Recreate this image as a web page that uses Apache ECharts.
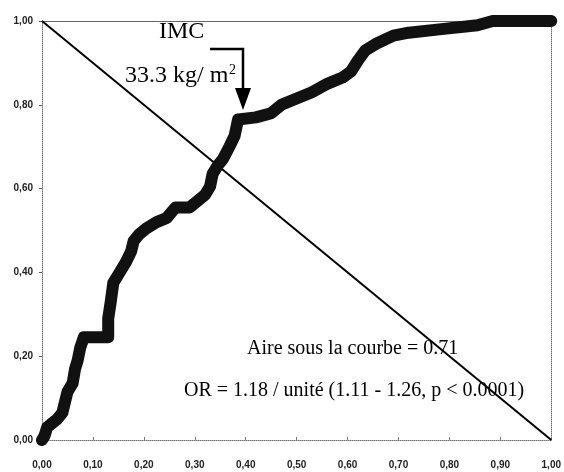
<!DOCTYPE html>
<html>
<head>
<meta charset="utf-8">
<script src="https://cdn.jsdelivr.net/npm/echarts@6/dist/echarts.min.js"></script>
<style>
  html, body { margin: 0; padding: 0; background: #fff; }
  #chart { width: 564px; height: 472px; }
</style>
</head>
<body>
<div id="chart"></div>
<script>
// courbe ROC (1 - spécificité, sensibilité)
const rocX = [0, 0.005, 0.01, 0.02, 0.03, 0.04, 0.045, 0.05, 0.06, 0.065, 0.07, 0.075, 0.082, 0.13, 0.13, 0.135, 0.14, 0.15, 0.165, 0.175, 0.18, 0.19, 0.205, 0.225, 0.245, 0.262, 0.29, 0.305, 0.32, 0.33, 0.335, 0.345, 0.355, 0.368, 0.378, 0.385, 0.42, 0.45, 0.47, 0.50, 0.53, 0.56, 0.59, 0.607, 0.62, 0.635, 0.655, 0.69, 0.72, 0.78, 0.855, 0.885, 1.0];
const rocY = [0, 0.01, 0.03, 0.04, 0.05, 0.065, 0.09, 0.115, 0.135, 0.17, 0.19, 0.22, 0.245, 0.245, 0.29, 0.33, 0.375, 0.395, 0.425, 0.45, 0.475, 0.49, 0.505, 0.52, 0.53, 0.555, 0.555, 0.57, 0.585, 0.605, 0.635, 0.655, 0.67, 0.70, 0.725, 0.765, 0.77, 0.78, 0.80, 0.815, 0.83, 0.85, 0.865, 0.88, 0.905, 0.93, 0.945, 0.965, 0.972, 0.98, 0.99, 1.0, 1.0];
// diagonale de référence
const diagX = [0, 1];
const diagY = [1, 0];

const xTicks = { min: 0, max: 1, interval: 0.1 };
const yTicks = { min: 0, max: 1, interval: 0.2 };

const fmt = v => v.toFixed(2).replace('.', ',');

const chart = echarts.init(document.getElementById('chart'));

const serif = '"Liberation Serif", "DejaVu Serif", serif';

chart.setOption({
  backgroundColor: '#ffffff',
  animation: false,
  grid: { left: 42, right: 10, top: 21, bottom: 32 },
  xAxis: [
    {
      type: 'value', min: xTicks.min, max: xTicks.max, interval: xTicks.interval,
      axisLine: { lineStyle: { color: '#777', type: 'dotted', width: 1 } },
      axisTick: { inside: true, length: 3, lineStyle: { color: '#777' } },
      axisLabel: { formatter: fmt, color: '#222', fontSize: 10, fontWeight: 'bold',
                   fontFamily: '"Liberation Sans", Arial, sans-serif', margin: 20 },
      splitLine: { show: false }
    },
    {
      type: 'value', position: 'top', min: 0, max: 1,
      axisLine: { show: true, onZero: false, lineStyle: { color: '#666', width: 1 } },
      axisTick: { show: false }, axisLabel: { show: false }, splitLine: { show: false }
    }
  ],
  yAxis: [
    {
      type: 'value', min: yTicks.min, max: yTicks.max, interval: yTicks.interval,
      axisLine: { show: true, lineStyle: { color: '#777', type: 'dotted', width: 1 } },
      axisTick: { show: true, length: 3, lineStyle: { color: '#555' } },
      axisLabel: { formatter: fmt, color: '#222', fontSize: 10, fontWeight: 'bold',
                   fontFamily: '"Liberation Sans", Arial, sans-serif', margin: 9 },
      splitLine: { show: false }
    },
    {
      type: 'value', position: 'right', min: 0, max: 1,
      axisLine: { show: true, onZero: false, lineStyle: { color: '#777', type: 'dotted', width: 1 } },
      axisTick: { show: false }, axisLabel: { show: false }, splitLine: { show: false }
    }
  ],
  series: [
    {
      type: 'line',
      data: diagX.map((x, i) => [x, diagY[i]]),
      symbol: 'none',
      lineStyle: { color: '#000', width: 2 },
      z: 2
    },
    {
      type: 'line',
      data: rocX.map((x, i) => [x, rocY[i]]),
      symbol: 'none',
      lineStyle: { color: '#111', width: 12, cap: 'round', join: 'round' },
      z: 3
    }
  ],
  graphic: [
    { type: 'text', left: 159, top: 20,
      style: { text: 'IMC', font: '24px ' + serif, fill: '#000' } },
    { type: 'text', left: 125, top: 64,
      style: { text: '33.3 kg/ m', font: '24px ' + serif, fill: '#000' } },
    { type: 'text', left: 229, top: 63,
      style: { text: '2', font: '14px ' + serif, fill: '#000' } },
    { type: 'polyline', shape: { points: [[210, 49], [243, 49], [243, 90]] },
      style: { stroke: '#000', lineWidth: 2.5, fill: null } },
    { type: 'polygon', shape: { points: [[235, 88], [251, 88], [243, 110]] },
      style: { fill: '#000' } },
    { type: 'text', left: 247, top: 339,
      style: { text: 'Aire sous la courbe = 0.71', font: '20px ' + serif, fill: '#000' } },
    { type: 'text', left: 184, top: 381,
      style: { text: 'OR = 1.18 / unité (1.11 - 1.26, p < 0.0001)', font: '20px ' + serif, fill: '#000' } }
  ]
});
</script>
</body>
</html>
